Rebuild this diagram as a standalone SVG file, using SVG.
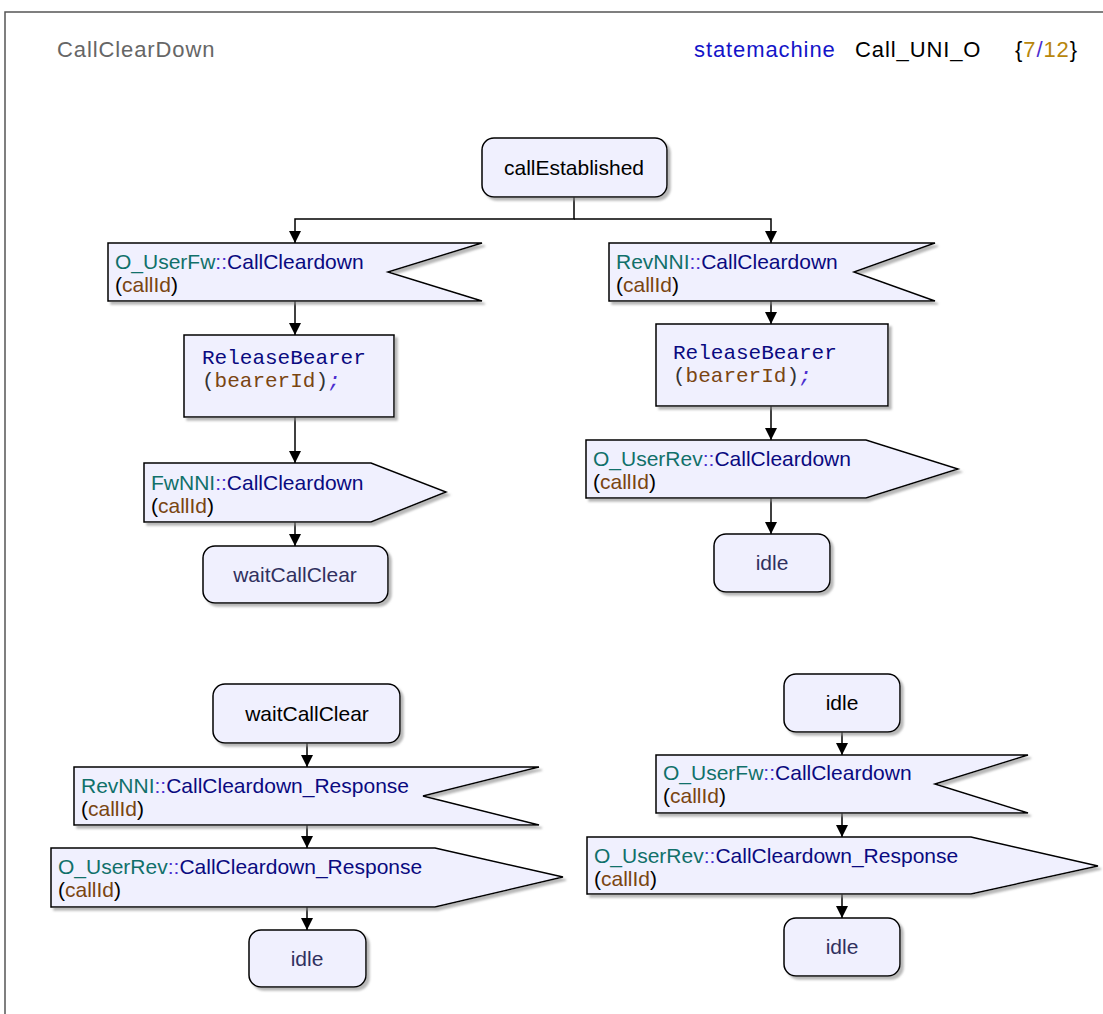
<svg xmlns="http://www.w3.org/2000/svg" width="1103" height="1014" viewBox="0 0 1103 1014">
<style>
.sh{fill:#F0F0FE;stroke:#000;stroke-width:1.5;filter:url(#ds)}
.t{font-family:"Liberation Sans",Arial,sans-serif;font-size:21px}
.st{font-family:"Liberation Sans",Arial,sans-serif;font-size:21px;text-anchor:middle}
.m{font-family:"Liberation Mono","Courier New",monospace;font-size:21px}
.ns{fill:#11706A}
.op{fill:#4B2ECF}
.nm{fill:#0A0A80}
.ar{fill:#7A4512}
.bk{fill:#000}
.end{fill:#303060}
.con{fill:none;stroke:#000;stroke-width:1.5}
.hd{font-family:"Liberation Sans",Arial,sans-serif;font-size:22px;letter-spacing:0.9px}
</style>
<defs>
<filter id="ds" x="-10%" y="-10%" width="130%" height="140%">
<feDropShadow dx="3" dy="3" stdDeviation="1.2" flood-color="#888" flood-opacity="0.6"/>
</filter>
<marker id="ah" markerWidth="12" markerHeight="12" viewBox="0 0 12 12" refX="12" refY="6" orient="auto" markerUnits="userSpaceOnUse">
<path d="M0,0 L12,6 L0,12 z" fill="#000"/>
</marker>
</defs>
<rect width="1103" height="1014" fill="#fff"/>
<path d="M5,1014 V12 H1103" fill="none" stroke="#555" stroke-width="1.5"/>
<text class="hd" x="57" y="57" fill="#666">CallClearDown</text>
<text class="hd" x="694" y="57"><tspan fill="#1414C8">statemachine</tspan><tspan fill="#000" x="855">Call_UNI_O</tspan><tspan fill="#000" x="1015">{</tspan><tspan fill="#B8860B">7</tspan><tspan fill="#4B2ECF">/</tspan><tspan fill="#B8860B">12</tspan><tspan fill="#000">}</tspan></text>

<g id="connectors">
<path class="con" d="M574,197 V219 H295 V243" marker-end="url(#ah)"/>
<path class="con" d="M574,219 H771 V243" marker-end="url(#ah)"/>
<path class="con" d="M295,301 V335" marker-end="url(#ah)"/>
<path class="con" d="M295,417 V463" marker-end="url(#ah)"/>
<path class="con" d="M295,522 V546" marker-end="url(#ah)"/>
<path class="con" d="M771,301 V324" marker-end="url(#ah)"/>
<path class="con" d="M771,406 V440" marker-end="url(#ah)"/>
<path class="con" d="M771,498 V534" marker-end="url(#ah)"/>
<path class="con" d="M307,743 V767" marker-end="url(#ah)"/>
<path class="con" d="M307,825 V848" marker-end="url(#ah)"/>
<path class="con" d="M307,907 V930" marker-end="url(#ah)"/>
<path class="con" d="M842,732 V755" marker-end="url(#ah)"/>
<path class="con" d="M842,813 V837" marker-end="url(#ah)"/>
<path class="con" d="M842,894 V918" marker-end="url(#ah)"/>
</g>

<g id="callEstablished">
<rect class="sh" x="482" y="138" width="185" height="59" rx="12"/>
<text class="st bk" x="574" y="175">callEstablished</text>
</g>

<g id="in_userfw_1">
<polygon class="sh" points="108,243 482,243 388,272 482,301 108,301"/>
<text class="t" x="115" y="269"><tspan class="ns">O_UserFw</tspan><tspan class="op">::</tspan><tspan class="nm">CallCleardown</tspan></text>
<text class="t" x="115" y="292"><tspan class="bk">(</tspan><tspan class="ar">callId</tspan><tspan class="bk">)</tspan></text>
</g>

<g id="task_left">
<rect class="sh" x="184" y="335" width="210" height="82"/>
<text class="m" x="202" y="364"><tspan class="nm">ReleaseBearer</tspan></text>
<text class="m" x="202" y="387"><tspan fill="#333">(</tspan><tspan class="ar">bearerId</tspan><tspan fill="#333">)</tspan><tspan class="op" font-style="italic">;</tspan></text>
</g>

<g id="out_fwnni">
<polygon class="sh" points="144,463 371,463 446,492 371,522 144,522"/>
<text class="t" x="151" y="490"><tspan class="ns">FwNNI</tspan><tspan class="op">::</tspan><tspan class="nm">CallCleardown</tspan></text>
<text class="t" x="151" y="513"><tspan class="bk">(</tspan><tspan class="ar">callId</tspan><tspan class="bk">)</tspan></text>
</g>

<g id="waitCallClear_1">
<rect class="sh" x="203" y="546" width="185" height="57" rx="12"/>
<text class="st end" x="295" y="582">waitCallClear</text>
</g>

<g id="in_revnni_1">
<polygon class="sh" points="609,243 935,243 854,272 935,301 609,301"/>
<text class="t" x="616" y="269"><tspan class="ns">RevNNI</tspan><tspan class="op">::</tspan><tspan class="nm">CallCleardown</tspan></text>
<text class="t" x="616" y="292"><tspan class="bk">(</tspan><tspan class="ar">callId</tspan><tspan class="bk">)</tspan></text>
</g>

<g id="task_right">
<rect class="sh" x="656" y="324" width="232" height="82"/>
<text class="m" x="673" y="359"><tspan class="nm">ReleaseBearer</tspan></text>
<text class="m" x="673" y="382"><tspan fill="#333">(</tspan><tspan class="ar">bearerId</tspan><tspan fill="#333">)</tspan><tspan class="op" font-style="italic">;</tspan></text>
</g>

<g id="out_userrev_1">
<polygon class="sh" points="586,440 866,440 958,469 866,498 586,498"/>
<text class="t" x="593" y="466"><tspan class="ns">O_UserRev</tspan><tspan class="op">::</tspan><tspan class="nm">CallCleardown</tspan></text>
<text class="t" x="593" y="489"><tspan class="bk">(</tspan><tspan class="ar">callId</tspan><tspan class="bk">)</tspan></text>
</g>

<g id="idle_1">
<rect class="sh" x="714" y="534" width="116" height="58" rx="12"/>
<text class="st end" x="772" y="570">idle</text>
</g>

<g id="waitCallClear_2">
<rect class="sh" x="213" y="684" width="187" height="59" rx="12"/>
<text class="st bk" x="307" y="721">waitCallClear</text>
</g>

<g id="in_revnni_2">
<polygon class="sh" points="74,767 539,767 423,796 539,825 74,825"/>
<text class="t" x="81" y="793"><tspan class="ns">RevNNI</tspan><tspan class="op">::</tspan><tspan class="nm">CallCleardown_Response</tspan></text>
<text class="t" x="81" y="816"><tspan class="bk">(</tspan><tspan class="ar">callId</tspan><tspan class="bk">)</tspan></text>
</g>

<g id="out_userrev_2">
<polygon class="sh" points="51,848 435,848 563,877 435,907 51,907"/>
<text class="t" x="58" y="874"><tspan class="ns">O_UserRev</tspan><tspan class="op">::</tspan><tspan class="nm">CallCleardown_Response</tspan></text>
<text class="t" x="58" y="897"><tspan class="bk">(</tspan><tspan class="ar">callId</tspan><tspan class="bk">)</tspan></text>
</g>

<g id="idle_2">
<rect class="sh" x="249" y="930" width="117" height="57" rx="12"/>
<text class="st end" x="307" y="966">idle</text>
</g>

<g id="idle_3">
<rect class="sh" x="784" y="674" width="116" height="58" rx="12"/>
<text class="st bk" x="842" y="710">idle</text>
</g>

<g id="in_userfw_2">
<polygon class="sh" points="656,755 1028,755 935,784 1028,813 656,813"/>
<text class="t" x="663" y="780"><tspan class="ns">O_UserFw</tspan><tspan class="op">::</tspan><tspan class="nm">CallCleardown</tspan></text>
<text class="t" x="663" y="803"><tspan class="bk">(</tspan><tspan class="ar">callId</tspan><tspan class="bk">)</tspan></text>
</g>

<g id="out_userrev_3">
<polygon class="sh" points="587,837 971,837 1098,866 971,894 587,894"/>
<text class="t" x="594" y="863"><tspan class="ns">O_UserRev</tspan><tspan class="op">::</tspan><tspan class="nm">CallCleardown_Response</tspan></text>
<text class="t" x="594" y="886"><tspan class="bk">(</tspan><tspan class="ar">callId</tspan><tspan class="bk">)</tspan></text>
</g>

<g id="idle_4">
<rect class="sh" x="784" y="918" width="116" height="58" rx="12"/>
<text class="st end" x="842" y="954">idle</text>
</g>
</svg>
